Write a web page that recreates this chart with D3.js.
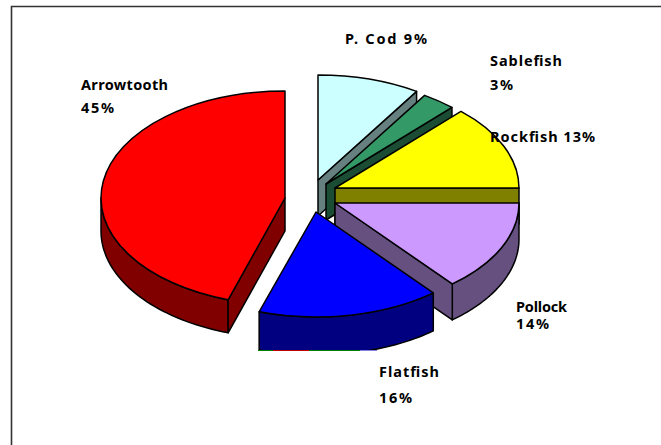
<!DOCTYPE html>
<html><head><meta charset="utf-8">
<script src="https://cdn.jsdelivr.net/npm/d3@7"></script>
<style>html,body{margin:0;padding:0;background:#fff}svg{display:block}
text{font-family:"Noto Sans",sans-serif;font-weight:700;font-size:14.5px;fill:#000}</style>
</head><body><div id="chart"></div>
<script>
const categories = ["P. Cod","Sablefish","Rockfish","Pollock","Flatfish","Arrowtooth"];
const shares = [9,3,13,14,16,45];
const topColors = ["#CCFFFF","#339966","#FFFF00","#CC99FF","#0000FF","#FF0000"];
const wallColors = ["#668080","#1A4D33","#808000","#665080","#000080","#800000"];
// exploded slice geometry (layout, not data)
const centresX = [318,326,335,335,316,285];
const centresY = [180,184,188,203,212,198];
const radiiY = [105,105,105,105,105,107];
const depths = [36,36,36,36,38,33];
const labelLines = [
  {t:"P. Cod 9%",x:345,y:44,w:82},
  {t:"Sablefish",x:490,y:66,w:72},
  {t:"3%",x:490,y:90,w:23},
  {t:"Rockfish 13%",x:490,y:142,w:105},
  {t:"Pollock",x:516,y:312,w:51},
  {t:"14%",x:516,y:329,w:33},
  {t:"Flatfish",x:379,y:377,w:60},
  {t:"16%",x:379,y:403,w:33},
  {t:"Arrowtooth",x:81,y:90,w:87},
  {t:"45%",x:81,y:113,w:33}
];
// thin coloured residue under the flatfish wall in the source picture
const residue = [
  {x0:258,x1:273,c:"#008000"},
  {x0:273,x1:309,c:"#C00000"},
  {x0:309,x1:360,c:"#008000"},
  {x0:360,x1:377,c:"#8080E0"}
];
const W=661,H=445,rx=184,flatfishFloor=350;
const svg=d3.select("#chart").append("svg").attr("width",W).attr("height",H);
svg.append("path").attr("d",`M11.5,${H}V6.5H${W}`).attr("fill","none").attr("stroke","#333").attr("stroke-width",1.6);
svg.append("clipPath").attr("id","floor").append("rect").attr("x",0).attr("y",0).attr("width",W).attr("height",flatfishFloor);

const arcs=d3.pie().sort(null)(shares);
const arcGen=d3.arc().innerRadius(0).outerRadius(rx);
const line=d3.line();
const px=(i,a)=>centresX[i]+rx*Math.sin(a);
const py=(i,a)=>centresY[i]-radiiY[i]*Math.cos(a);
const stroke=g=>g.attr("stroke","#000").attr("stroke-width",1.5).attr("stroke-linejoin","round");

arcs.forEach((d,i)=>{
  const g=svg.append("g");
  const dp=depths[i];
  const a0=Math.max(d.startAngle,Math.PI/2), a1=Math.min(d.endAngle,Math.PI*1.5);
  if(a1>a0){
    const as=d3.range(0,41).map(k=>a0+(a1-a0)*k/40);
    const pts=as.map(a=>[px(i,a),py(i,a)]).concat(as.slice().reverse().map(a=>[px(i,a),py(i,a)+dp]));
    const rim=g.append("path").attr("d",line(pts)+"Z").attr("fill",wallColors[i]).call(stroke);
    if(categories[i]==="Flatfish") rim.attr("clip-path","url(#floor)");
  }
  const wall=a=>{
    const pts=[[centresX[i],centresY[i]],[px(i,a),py(i,a)],[px(i,a),py(i,a)+dp],[centresX[i],centresY[i]+dp]];
    g.append("path").attr("d",line(pts)+"Z").attr("fill",wallColors[i]).call(stroke);
  };
  if(d.endAngle<Math.PI) wall(d.endAngle);
  if(d.startAngle>Math.PI) wall(d.startAngle);
  g.append("path").attr("d",arcGen(d))
    .attr("transform",`translate(${centresX[i]},${centresY[i]}) scale(1,${radiiY[i]/rx})`)
    .attr("fill",topColors[i]).attr("vector-effect","non-scaling-stroke").call(stroke);
  g.append("title").text(`${categories[i]} ${shares[i]}%`);
});

svg.selectAll("line.residue").data(residue).join("line").attr("class","residue")
  .attr("x1",d=>d.x0).attr("x2",d=>d.x1).attr("y1",flatfishFloor+0.5).attr("y2",flatfishFloor+0.5)
  .attr("stroke",d=>d.c).attr("stroke-width",1);

svg.selectAll("text.lbl").data(labelLines).join("text").attr("class","lbl")
  .attr("x",d=>d.x).attr("y",d=>d.y).attr("textLength",d=>d.w).attr("lengthAdjust","spacing").text(d=>d.t);
</script></body></html>
